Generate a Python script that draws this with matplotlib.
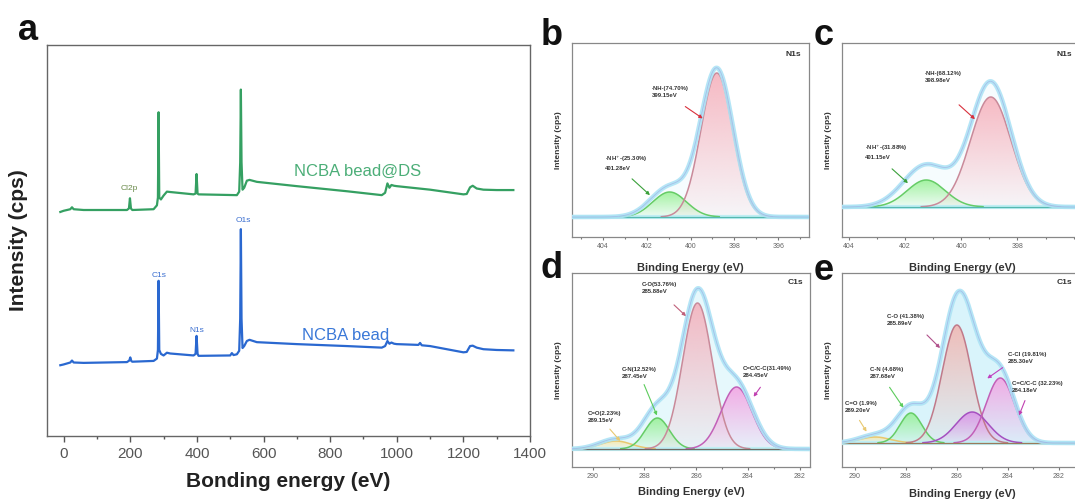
import numpy as np
import matplotlib
matplotlib.use('Agg')
import matplotlib.pyplot as plt
import matplotlib.colors as mcolors
from matplotlib.ticker import MultipleLocator, FixedLocator

plt.rcParams['font.family'] = ['Liberation Sans', 'DejaVu Sans']

# ---------------- Panel a: survey spectra ----------------
ds_energy = [-10, 0, 20, 25, 30, 60, 190, 196, 199, 202, 206, 270, 280, 283, 285, 287, 292, 300, 310, 320,
             390, 396, 399, 402, 405, 520, 527, 530, 532, 534, 537, 542, 550, 558, 580, 700, 850, 955, 965,
             972, 978, 984, 992, 1000, 1100, 1200, 1210, 1220, 1228, 1240, 1260, 1300, 1350]
ds_intensity = [57.3, 57.6, 58.0, 58.5, 58.0, 57.8, 57.8, 58.2, 60.8, 58.2, 57.8, 58.0, 59.0, 61.0, 82.8, 61.0,
                60.5, 61.5, 62.5, 62.4, 61.8, 62.0, 67.0, 62.0, 61.8, 61.6, 62.5, 70.0, 88.6, 70.0, 63.0, 63.5,
                65.3, 65.5, 65.0, 63.9, 62.6, 61.6, 62.2, 64.6, 63.5, 64.2, 64.0, 63.9, 63.0, 61.8, 61.9, 63.6,
                64.0, 63.3, 63.0, 62.9, 62.9]
bead_energy = [-10, 0, 20, 25, 30, 60, 190, 197, 200, 203, 206, 270, 280, 283, 285, 287, 292, 300, 310, 320,
               390, 396, 399, 402, 405, 500, 505, 510, 520, 527, 530, 532, 534, 537, 542, 550, 558, 580, 700,
               850, 955, 965, 972, 978, 984, 992, 1000, 1065, 1070, 1075, 1100, 1200, 1210, 1220, 1228, 1240,
               1260, 1300, 1350]
bead_intensity = [18.1, 18.3, 18.8, 19.3, 18.8, 18.7, 18.9, 19.3, 20.1, 19.2, 19.0, 19.2, 19.8, 22.0, 39.7, 22.0,
                  21.0, 20.6, 21.3, 21.1, 20.6, 21.0, 25.6, 21.0, 20.5, 20.6, 21.2, 20.7, 20.9, 21.8, 30.0, 52.9,
                  30.0, 22.5, 23.0, 24.3, 24.6, 24.0, 23.5, 23.0, 22.6, 23.0, 24.3, 23.6, 23.9, 23.6, 23.5, 23.3,
                  23.8, 23.2, 23.0, 21.4, 21.5, 23.0, 23.1, 22.6, 22.2, 22.0, 21.9]
survey_names = ['NCBA bead@DS', 'NCBA bead']
peak_labels_ds = ['Cl2p']
peak_pos_ds = [(198, 63.3)]
peak_labels_bead = ['C1s', 'N1s', 'O1s']
peak_pos_bead = [(286, 41.1), (401, 27.0), (538, 55.0)]

# ---------------- Panels b-e: peak fits (center eV, height, FWHM eV) ----------------
b_centers = [400.95, 398.8]
b_heights = [25, 144]
b_fwhm = [1.8, 1.7]
b_env_heights = [30, 148]
b_env_fwhm = [2.0, 1.75]
b_baseline = 20
b_labels = ['-NH$^{+}$-(25.30%)\n401.28eV', '-NH-(74.70%)\n399.15eV']

c_centers = [401.25, 398.95]
c_heights = [27, 110]
c_fwhm = [1.6, 1.7]
c_env_heights = [42, 125]
c_env_fwhm = [1.9, 1.7]
c_baseline = 30
c_labels = ['-NH$^{+}$-(31.88%)\n401.15eV', '-NH-(68.12%)\n398.98eV']

d_centers = [289.1, 287.5, 285.95, 284.44]
d_heights = [8, 31, 146, 62]
d_fwhm = [1.4, 1.1, 1.35, 1.4]
d_env_heights = [10, 40, 156, 64]
d_env_fwhm = [1.5, 1.3, 1.45, 1.5]
d_baseline = 18
d_labels = ['C=O(2.23%)\n289.15eV', 'C-N(12.52%)\n287.45eV', 'C-O(53.76%)\n285.88eV',
            'C=C/C-C(31.49%)\n284.45eV']

e_centers = [289.2, 287.8, 286.0, 285.4, 284.3]
e_heights = [6, 30, 118, 31, 65]
e_fwhm = [1.4, 1.0, 1.35, 1.5, 1.3]
e_env_heights = [8, 36, 128, 33, 67]
e_env_fwhm = [1.5, 1.3, 1.5, 1.5, 1.35]
e_baseline = 24
e_labels = ['C=O (1.9%)\n289.20eV', 'C-N (4.68%)\n287.68eV', 'C-O (41.38%)\n285.89eV',
            'C-Cl (19.81%)\n285.30eV', 'C=C/C-C (32.23%)\n284.18eV']

W, H = 1075, 500
fig = plt.figure(figsize=(W / 100, H / 100), dpi=100)

BOX_A = (47, 45, 530, 436)
BOX_B = (572, 43, 809, 237)
BOX_C = (842, 43, 1082, 237)
BOX_D = (572, 273, 810, 467)
BOX_E = (842, 273, 1082, 467)


def add_axes(box):
    l, t, r, b = box
    return fig.add_axes([l / W, 1 - b / H, (r - l) / W, (b - t) / H])


def af(box, px, py):
    l, t, r, b = box
    return ((px - l) / (r - l), (b - py) / (b - t))


def gauss(x, c, h, w):
    return h * np.exp(-4 * np.log(2) * (x - c) ** 2 / w ** 2)


def grad_fill(ax, x, y, base, color, a_top=0.8, a_bot=0.08, z=2):
    poly = ax.fill_between(x, base, y, facecolor='none', edgecolor='none', lw=0)
    path = poly.get_paths()[0]
    rgb = mcolors.to_rgb(color)
    n = 128
    img = np.zeros((n, 1, 4))
    img[:, 0, :3] = rgb
    img[:, 0, 3] = np.linspace(a_top, a_bot, n)
    im = ax.imshow(img, aspect='auto', extent=[x.min(), x.max(), base, y.max()],
                   origin='upper', zorder=z, interpolation='bilinear')
    im.set_clip_path(path, transform=ax.transData)


# ---------------- Panel a ----------------
axa = add_axes(BOX_A)
axa.plot(ds_energy, ds_intensity, color='#35a062', lw=1.6)
axa.plot(bead_energy, bead_intensity, color='#2a68d0', lw=1.6)
axa.set_xlim(-50, 1400)
axa.set_ylim(0, 100)
axa.xaxis.set_major_locator(MultipleLocator(200))
axa.xaxis.set_minor_locator(MultipleLocator(100))
axa.set_yticks([])
axa.tick_params(axis='x', which='major', length=4, width=1, color='#555', labelsize=11,
                labelcolor='#555', direction='out', pad=4)
axa.tick_params(axis='x', which='minor', length=2.5, width=1, color='#555', direction='out')
for s in axa.spines.values():
    s.set_color('#666')
    s.set_linewidth(1.0)
axa.set_xlabel('Bonding energy (eV)', fontsize=15, fontweight='bold', color='#222', labelpad=8)
axa.set_ylabel('Intensity (cps)', fontsize=15, fontweight='bold', color='#222', labelpad=14)
axa.text(883, 67.8, survey_names[0], color='#4cae78', fontsize=12, ha='center', va='center')
axa.text(845, 25.8, survey_names[1], color='#3a78d8', fontsize=12, ha='center', va='center')
for lab, (px, py) in zip(peak_labels_ds, peak_pos_ds):
    axa.text(px, py, lab, color='#6a8a4a', fontsize=6, ha='center', va='center')
for lab, (px, py) in zip(peak_labels_bead, peak_pos_bead):
    axa.text(px, py, lab, color='#3a6ed0', fontsize=6, ha='center', va='center')

# ---------------- small panels ----------------
panels = [
    dict(box=BOX_B, xlim=(405.4, 394.6), ticks=[404, 402, 400, 398, 396], cen=b_centers, hei=b_heights,
         fw=b_fwhm, eh=b_env_heights, ef=b_env_fwhm, base=b_baseline, labels=b_labels,
         fills=['#8ff08a', '#f6a9b5'], edges=['#66cc66', '#c98a9a'],
         ann=[((605, 163), (630, 177), (652, 197), '#3aa03a'),
              ((652, 92), (683, 105), (705, 120), '#d8303c')],
         corner=('N1s', 801, 55), xl_y=263, env_fill=0.15, basecol='#55b8b0'),
    dict(box=BOX_C, xlim=(404.25, 395.7), ticks=[404, 402, 400, 398], cen=c_centers, hei=c_heights,
         fw=c_fwhm, eh=c_env_heights, ef=c_env_fwhm, base=c_baseline, labels=c_labels,
         fills=['#8ff08a', '#f6a9b5'], edges=['#66cc66', '#c98a9a'],
         ann=[((865, 152), (890, 167), (910, 185), '#3aa03a'),
              ((925, 77), (957, 103), (977, 121), '#d8303c')],
         corner=('N1s', 1072, 55), xl_y=263, env_fill=0.15, basecol='#55b8b0'),
    dict(box=BOX_D, xlim=(290.8, 281.6), ticks=[290, 288, 286, 284, 282], cen=d_centers, hei=d_heights,
         fw=d_fwhm, eh=d_env_heights, ef=d_env_fwhm, base=d_baseline, labels=d_labels,
         fills=['#fbe6a0', '#8ff08a', '#f6a9b5', '#f59be0'],
         edges=['#e8c870', '#66cc66', '#c98a9a', '#c260b8'],
         ann=[((588, 417), (608, 427), (622, 443), '#e8c870'),
              ((622, 373), (643, 382), (658, 418), '#5ccc5c'),
              ((642, 288), (672, 303), (688, 318), '#c0607a'),
              ((743, 372), (762, 385), (752, 399), '#c040b0')],
         corner=('C1s', 803, 283), xl_y=487, env_fill=0.45, basecol='#6f6a62'),
    dict(box=BOX_E, xlim=(290.5, 281.1), ticks=[290, 288, 286, 284, 282], cen=e_centers, hei=e_heights,
         fw=e_fwhm, eh=e_env_heights, ef=e_env_fwhm, base=e_baseline, labels=e_labels,
         fills=['#fbe6a0', '#8ff08a', '#f4b0aa', '#d98ae8', '#f59be0'],
         edges=['#e8c870', '#66cc66', '#c07a8a', '#a550c0', '#c260b8'],
         ann=[((845, 407), (858, 418), (868, 434), '#e8c870'),
              ((870, 373), (888, 385), (905, 410), '#5ccc5c'),
              ((887, 320), (925, 333), (942, 350), '#b0508a'),
              ((1008, 358), (1005, 366), (985, 380), '#c040c0'),
              ((1012, 387), (1026, 398), (1018, 418), '#c040b0')],
         corner=('C1s', 1072, 283), xl_y=489, env_fill=0.7, basecol='#9a7a5a'),
]

for p in panels:
    ax = add_axes(p['box'])
    x = np.linspace(min(p['xlim']), max(p['xlim']), 600)
    base = p['base']
    env = base + sum(gauss(x, c, h, w) for c, h, w in zip(p['cen'], p['eh'], p['ef']))
    ax.fill_between(x, base, env, color='#c9f0fa', alpha=p['env_fill'], lw=0, zorder=1)
    comps = []
    for c, h, w, fc, ec in zip(p['cen'], p['hei'], p['fw'], p['fills'], p['edges']):
        y = base + gauss(x, c, h, w)
        comps.append(y)
        grad_fill(ax, x, y, base, fc, z=2)
    for y, ec in zip(comps, p['edges']):
        m = y > base + 0.3
        ax.plot(x[m], y[m], color=ec, lw=1.1, zorder=4)
    ax.axhline(base, color='#bfeef3', lw=3, zorder=3)
    ax.axhline(base, color=p['basecol'], lw=0.9, zorder=5)
    ax.plot(x, env, color='#ade3f5', lw=3.2, alpha=0.9, zorder=6)
    ax.plot(x, env, color='#9aa6e0', lw=0.6, alpha=0.6, zorder=7)
    box = p['box']
    for lab, (tpos, a0, a1, col) in zip(p['labels'], p['ann']):
        ax.annotate('', xy=af(box, *a1), xycoords='axes fraction', xytext=af(box, *a0),
                    textcoords='axes fraction',
                    arrowprops=dict(arrowstyle='-|>', color=col, lw=0.8, mutation_scale=5), zorder=8)
        ax.text(*af(box, *tpos), lab, transform=ax.transAxes, fontsize=4.3, fontweight='bold',
                color='#333', ha='left', va='center', linespacing=1.5, zorder=9)
    cl, cx, cy = p['corner']
    ax.text(*af(box, cx, cy), cl, transform=ax.transAxes, fontsize=6, fontweight='bold', color='#333',
            ha='right', va='center', zorder=9)
    ax.set_xlim(*p['xlim'])
    ax.set_ylim(0, 194)
    ax.xaxis.set_major_locator(FixedLocator(p['ticks']))
    ax.xaxis.set_minor_locator(MultipleLocator(1))
    ax.set_yticks([])
    ax.tick_params(axis='x', which='major', length=2.5, width=0.8, color='#777', labelsize=5,
                   labelcolor='#666', pad=2)
    ax.tick_params(axis='x', which='minor', length=1.5, width=0.8, color='#777')
    for s in ax.spines.values():
        s.set_color('#888')
        s.set_linewidth(0.9)
    ax.set_xlabel('Binding Energy (eV)', fontsize=8, fontweight='bold', color='#333')
    l, t, r, b = box
    ax.xaxis.set_label_coords(0.5, (b - p['xl_y']) / (b - t))
    ax.set_ylabel('Intensity (cps)', fontsize=6, fontweight='bold', color='#333')
    ax.yaxis.set_label_coords(-10 / (r - l), 0.5)

# panel letters
for letter, px, py in [('a', 18, 40), ('b', 541, 45), ('c', 814, 45), ('d', 541, 278), ('e', 814, 280)]:
    fig.text(px / W, 1 - py / H, letter, fontsize=26, fontweight='bold', color='#111',
             ha='left', va='baseline')

fig.savefig('out.png', dpi=100)
